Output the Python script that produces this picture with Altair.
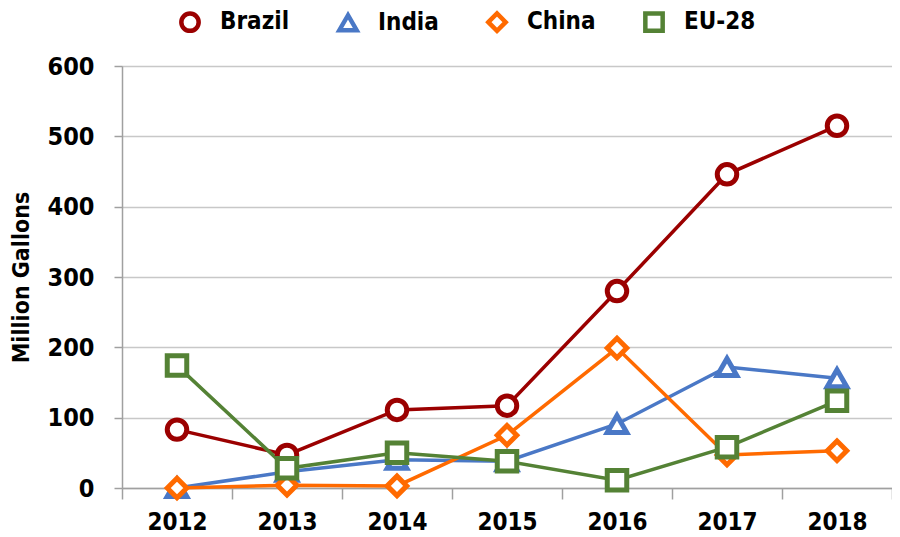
import altair as alt
import pandas as pd

years = ["2012", "2013", "2014", "2015", "2016", "2017", "2018"]
brazil = [83, 47, 111, 117, 280, 446, 515]
india = [0, 23, 40, 38, 91, 172, 156]
china = [0, 4, 3, 75, 199, 47, 53]
eu28 = [174, 28, 50, 38, 11, 58, 124]

series = ["Brazil", "India", "China", "EU-28"]
colors = ["#9B0000", "#4A78C6", "#FF6A00", "#548235"]
shapes = ["circle", "triangle-up", "diamond", "square"]

rows = []
for name, vals in zip(series, [brazil, india, china, eu28]):
    for y, v in zip(years, vals):
        rows.append({"Year": y, "Value": v, "Country": name})
df = pd.DataFrame(rows)

FONT = "'DejaVu Sans Condensed', 'Liberation Sans Narrow', sans-serif"

x = alt.X("Year:N", sort=years, title=None,
          scale=alt.Scale(type="band", paddingInner=0, paddingOuter=0),
          axis=alt.Axis(tickBand="extent", labelAngle=0, labelFontSize=24,
                        labelFont=FONT, labelFontWeight="bold", labelColor="black",
                        domainColor="#A0A0A0", domainWidth=1.5, tickColor="#A0A0A0",
                        tickWidth=1.5, tickSize=11, labelPadding=11, grid=False))
y = alt.Y("Value:Q", title="Million Gallons",
          scale=alt.Scale(domain=[0, 600], nice=False),
          axis=alt.Axis(values=[0, 100, 200, 300, 400, 500, 600], labelFontSize=25,
                        labelFont=FONT, labelFontWeight="bold", labelColor="black",
                        titleFont=FONT, titleFontSize=23, titleFontWeight="bold",
                        titleColor="black", titlePadding=14,
                        domainColor="#A0A0A0", domainWidth=1.5, tickColor="#A0A0A0",
                        tickWidth=1.5, tickSize=8, labelPadding=20,
                        gridColor="#C8C8C8", gridWidth=1.5))

color = alt.Color("Country:N", sort=series,
                  scale=alt.Scale(domain=series, range=colors),
                  legend=alt.Legend(orient="none", legendX=56, legendY=-56,
                                    direction="horizontal", title=None,
                                    labelFont=FONT, labelFontSize=24,
                                    labelFontWeight="bold", labelColor="black",
                                    symbolSize=300, symbolStrokeWidth=4.5,
                                    symbolFillColor="white", columnPadding=40,
                                    labelOffset=18))
shape = alt.Shape("Country:N", sort=series,
                  scale=alt.Scale(domain=series, range=shapes), legend=None)

lines = alt.Chart(df).mark_line(strokeWidth=3.5).encode(
    x=x, y=y, color=color, detail="Country:N")
points = alt.Chart(df).mark_point(filled=False, fill="white", fillOpacity=1,
                                  strokeWidth=5, size=380, opacity=1).encode(
    x=x, y=y, color=color, shape=shape)

chart = alt.layer(lines, points).properties(
    width=770, height=422,
    autosize=alt.AutoSizeParams(type="none"),
    padding={"left": 114, "top": 58, "right": 0, "bottom": 46},
).configure_view(stroke=None).configure(background="white")

chart.save("out.html", embed_options={"renderer": "svg", "actions": False})
